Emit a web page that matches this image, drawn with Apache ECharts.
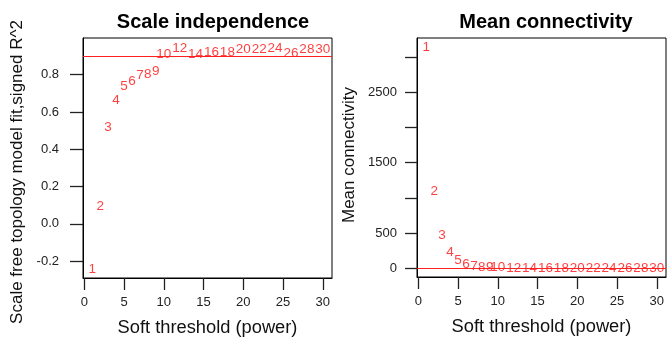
<!DOCTYPE html>
<html>
<head>
<meta charset="utf-8">
<script src="https://cdn.jsdelivr.net/npm/echarts@6/dist/echarts.min.js"></script>
<style>
html,body{margin:0;padding:0;background:#fff;}
#chart{width:672px;height:342px;}
</style>
</head>
<body>
<div id="chart"></div>
<script>
// ---- data ----
var powers = [1,2,3,4,5,6,7,8,9,10,12,14,16,18,20,22,24,26,28,30];
var sftR2 = [-0.242,0.095,0.516,0.665,0.737,0.764,0.795,0.800,0.821,0.911,0.940,0.911,0.920,0.920,0.934,0.934,0.944,0.917,0.934,0.938];
var meanK = [3132,1100,474,220,118,50,33,20,12,8,4.5,2.8,1.9,1.3,0.9,0.7,0.5,0.4,0.3,0.25];
var xTicks = [0,5,10,15,20,25,30];
var r2Ticks = [-0.2,0,0.2,0.4,0.6,0.8];
var kTicks = [0,500,1000,1500,2000,2500,3000];
var kTickLabels = [0,500,1500,2500];
var r2Cut = 0.9;
var kLine = 0;
var titles = ['Scale independence','Mean connectivity'];
var xName = 'Soft threshold (power)';
var yNames = ['Scale free topology model fit,signed R^2','Mean connectivity'];

var FONT = '"Liberation Sans", Arial, Helvetica, sans-serif';
var chart = echarts.init(document.getElementById('chart'), null, {renderer:'canvas'});

function xAxisDef(gi){
  return {
    type:'value', gridIndex:gi, min:-0.16, max:31.16,
    axisLine:{show:true, onZero:false, lineStyle:{color:'#000', width:1}},
    axisTick:{show:true, length:12, customValues:xTicks, lineStyle:{color:'#222', width:1.3}},
    axisLabel:{show:true, margin:18, customValues:xTicks, color:'#222', fontSize:13, fontFamily:FONT,
      formatter:function(v){return String(v);}},
    splitLine:{show:false},
    name:xName, nameLocation:'middle', nameGap:41,
    nameTextStyle:{color:'#111', fontSize:18.3, fontFamily:FONT}
  };
}
function dataPairs(ys){ return powers.map(function(p,i){ return [p, ys[i]]; }); }
function labelSeries(xi, ys){
  return {
    type:'scatter', xAxisIndex:xi, yAxisIndex:xi, data:dataPairs(ys),
    symbolSize:0, silent:true, animation:false,
    label:{show:true, position:'inside', formatter:function(p){return String(p.value[0]);},
      color:'#ff1010', fontSize:13.5, fontFamily:FONT},
    labelLayout:{hideOverlap:false},
    markLine:{silent:true, symbol:'none', animation:false, label:{show:false},
      lineStyle:{color:'#ff2020', width:1.2, type:'solid'},
      data:[{yAxis: xi===0 ? r2Cut : kLine}]}
  };
}

var option = {
  animation:false,
  backgroundColor:'#fff',
  title:[
    {text:titles[0], left:208, top:7, textAlign:'center',
      textStyle:{fontSize:20, fontWeight:'bold', color:'#000', fontFamily:FONT}},
    {text:titles[1], left:541, top:7, textAlign:'center',
      textStyle:{fontSize:20, fontWeight:'bold', color:'#000', fontFamily:FONT}}
  ],
  grid:[
    {left:83, top:38, width:249, height:240, show:true, borderColor:'#000', borderWidth:1, backgroundColor:'transparent'},
    {left:417, top:38, width:249, height:239, show:true, borderColor:'#000', borderWidth:1, backgroundColor:'transparent'}
  ],
  xAxis:[xAxisDef(0), xAxisDef(1)],
  yAxis:[
    {type:'value', gridIndex:0, min:-0.29, max:0.997,
      axisLine:{show:true, onZero:false, lineStyle:{color:'#000', width:1}},
      axisTick:{show:true, length:13, customValues:r2Ticks, lineStyle:{color:'#222', width:1.3}},
      axisLabel:{show:true, margin:24, customValues:r2Ticks, color:'#222', fontSize:13, fontFamily:FONT,
        formatter:function(v){return v.toFixed(1);}},
      splitLine:{show:false}},
    {type:'value', gridIndex:1, min:-124, max:3270,
      axisLine:{show:true, onZero:false, lineStyle:{color:'#000', width:1}},
      axisTick:{show:true, length:12, customValues:kTicks, lineStyle:{color:'#222', width:1.3}},
      axisLabel:{show:true, margin:20, customValues:kTickLabels, color:'#222', fontSize:13, fontFamily:FONT,
        formatter:function(v){return String(v);}},
      splitLine:{show:false}}
  ],
  graphic:[
    {type:'text', x:17, y:172, rotation:Math.PI/2,
      style:{text:yNames[0], fill:'#111', font:'17px '+FONT, align:'center', verticalAlign:'middle'}},
    {type:'text', x:349, y:155, rotation:Math.PI/2,
      style:{text:yNames[1], fill:'#111', font:'17px '+FONT, align:'center', verticalAlign:'middle'}}
  ],
  series:[labelSeries(0, sftR2), labelSeries(1, meanK)]
};
chart.setOption(option);
</script>
</body>
</html>
